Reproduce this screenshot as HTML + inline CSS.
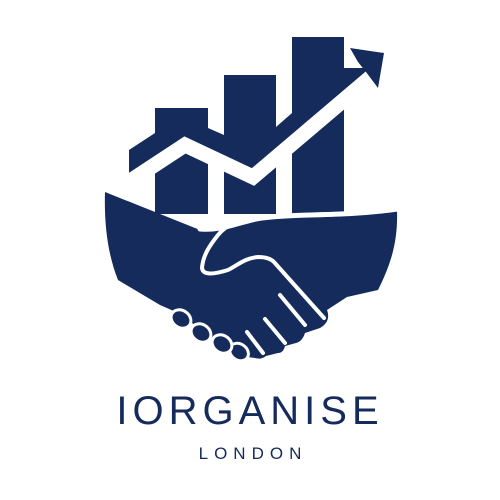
<!DOCTYPE html>
<html><head><meta charset="utf-8"><style>
html,body{margin:0;padding:0;background:#fff;width:500px;height:500px;overflow:hidden}
svg{display:block}
text{font-family:"Liberation Sans",sans-serif;fill:#142b5b}
</style></head><body>
<svg width="500" height="500" viewBox="0 0 500 500">
<g fill="#142b5b">
 <rect x="155" y="108" width="53" height="106"/>
 <rect x="224" y="75" width="52" height="139"/>
 <rect x="292" y="37" width="52" height="177"/>
 <polygon points="129,150 155,133 155,108 208,108 208,128 224,135 224,75 276,75 276,127 292,113 292,37 344,37 344,68 366,68 372,74 253,176 185,144 129,180"/>
</g>
<polyline points="118,189 185,145 253,177 372,76" fill="none" stroke="#fff" stroke-width="15" stroke-linejoin="miter"/>
<polygon points="350,48 384,53 378,88 366,72 358,62" fill="#142b5b"/>
<path fill="#142b5b" d="M105,192 L200,230 C225,232 240,222 262,219 C300,214 340,218 397,210 C398,240 392,262 378,290 L347,297 L327,310 C330,318 327,324 320,328 L305,333 C303,339 300,342 296,343 L285,346 C284,350 282,353 278,353 L266,356 C262,359 259,359 255,358 L240,356 L176,312 L160,305 L118,280 C108,255 104,225 105,192 Z"/>
<g fill="#142b5b" stroke="#fff" stroke-width="3">
 <ellipse cx="239" cy="352" rx="10" ry="8" transform="rotate(35 239 352)"/>
 <ellipse cx="222" cy="344" rx="10.5" ry="8.5" transform="rotate(35 222 344)"/>
 <ellipse cx="201" cy="333" rx="10.5" ry="8.5" transform="rotate(35 201 333)"/>
 <ellipse cx="181" cy="319" rx="10.5" ry="8.5" transform="rotate(35 181 319)"/>
</g>
<g fill="none" stroke="#fff" stroke-width="4" stroke-linecap="round">
 <path d="M200,229 C225,231 240,221 262,218 C300,213 340,217 398,209" stroke-width="5"/>
 <path d="M258,217 C240,218 226,225 218,235 C210,245 203,255 202,268 C203,276 215,274 228,270 C238,265 245,258 258,257 C264,257 270,258 274,262 L324,318"/>
 <path d="M280,295 L305,325"/>
 <path d="M265,319 L285,343"/>
 <path d="M247,332 L263,353"/>
</g>
<text x="250" y="424" text-anchor="middle" font-size="40" letter-spacing="5">IORGANISE</text>
<text x="253" y="459" text-anchor="middle" font-size="17" letter-spacing="6">LONDON</text>
</svg>
</body></html>
